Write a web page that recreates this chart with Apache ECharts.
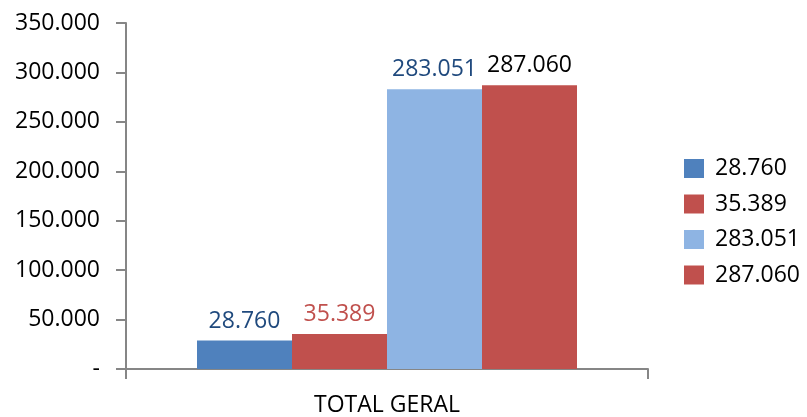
<!DOCTYPE html>
<html>
<head>
<meta charset="utf-8">
<script src="https://cdn.jsdelivr.net/npm/echarts@6/dist/echarts.min.js"></script>
<style>html,body{margin:0;padding:0;background:#fff;}#c{width:807px;height:417px;}</style>
</head>
<body>
<div id="c"></div>
<script>
const categories = ['TOTAL GERAL'];
const seriesNames = ['28.760', '35.389', '283.051', '287.060'];
const values1 = [28760];
const values2 = [35389];
const values3 = [283051];
const values4 = [287060];
const seriesValues = [values1, values2, values3, values4];
const barColors = ['#4F81BD', '#C0504D', '#8EB4E3', '#C0504D'];
const labelColors = ['#1F497D', '#C0504D', '#1F497D', '#000000'];

const FONT = '"Open Sans", sans-serif';
function fmt(v) {
  if (v === 0) return '-';
  return String(Math.round(v)).replace(/\B(?=(\d{3})+(?!\d))/g, '.');
}

const chart = echarts.init(document.getElementById('c'));
chart.setOption({
  animation: false,
  backgroundColor: '#fff',
  textStyle: { fontFamily: FONT },
  grid: { left: 126, right: 159, top: 23, bottom: 47, containLabel: false },
  legend: {
    orient: 'vertical',
    left: 679,
    top: 152,
    itemWidth: 20,
    itemHeight: 19,
    itemGap: 12.5,
    icon: 'rect',
    textStyle: { fontFamily: FONT, fontSize: 23, color: '#000', lineHeight: 23, padding: [0, 0, 0, 6] },
    data: seriesNames
  },
  xAxis: {
    type: 'category',
    data: categories,
    axisLine: { lineStyle: { color: '#868686', width: 2 } },
    axisTick: { show: true, length: 10, lineStyle: { color: '#868686', width: 2 } },
    axisLabel: { color: '#000', fontFamily: FONT, fontSize: 23, margin: 25 },
    splitLine: { show: false }
  },
  yAxis: {
    type: 'value',
    min: 0,
    max: 350000,
    interval: 50000,
    axisLine: { show: true, lineStyle: { color: '#868686', width: 2 } },
    axisTick: { show: true, length: 10, lineStyle: { color: '#868686', width: 2 } },
    axisLabel: { color: '#000', fontFamily: FONT, fontSize: 23, margin: 26, formatter: fmt },
    splitLine: { show: false }
  },
  series: seriesNames.map((name, i) => ({
    name: name,
    type: 'bar',
    data: seriesValues[i],
    barWidth: 95,
    barGap: '0%',
    itemStyle: { color: barColors[i] },
    label: {
      show: true,
      position: 'top',
      distance: 8,
      formatter: p => fmt(p.value),
      color: labelColors[i],
      fontFamily: FONT,
      fontSize: 23
    }
  }))
});
</script>
</body>
</html>
